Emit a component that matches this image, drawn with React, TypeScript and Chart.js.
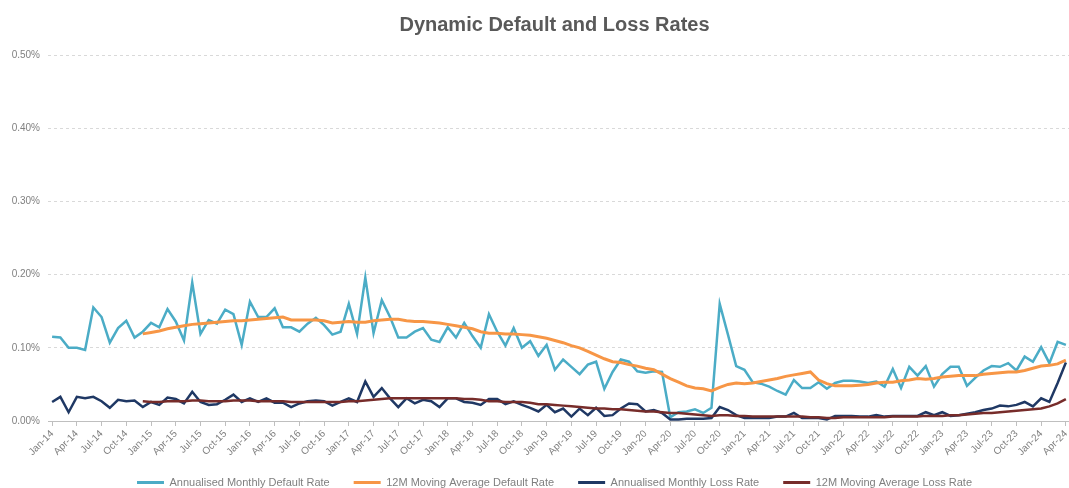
import React, { useEffect, useRef } from 'react';
import { Chart, registerables } from 'chart.js';

Chart.register(...registerables);

// ---- categories ----
const MONTHS = ['Jan', 'Feb', 'Mar', 'Apr', 'May', 'Jun', 'Jul', 'Aug', 'Sep', 'Oct', 'Nov', 'Dec'];
const FIRST_YEAR = 14;
const MONTH_COUNT = 124; // Jan-14 .. Apr-24
const categories: string[] = Array.from(
  { length: MONTH_COUNT },
  (_, i) => `${MONTHS[i % 12]}-${FIRST_YEAR + Math.floor(i / 12)}`
);

// ---- y-axis ticks (%) ----
const Y_MIN = 0;
const Y_MAX = 0.5;
const Y_STEP = 0.1;

// ---- series (values in %) ----
const monthlyDefaultRate = [
  0.115, 0.114, 0.100, 0.100, 0.097, 0.155, 0.142, 0.107, 0.127, 0.137, 0.114, 0.122,
  0.134, 0.128, 0.153, 0.136, 0.110, 0.189, 0.119, 0.138, 0.133, 0.152, 0.146, 0.104,
  0.163, 0.142, 0.142, 0.154, 0.128, 0.128, 0.122, 0.133, 0.141, 0.131, 0.118, 0.122,
  0.160, 0.119, 0.196, 0.120, 0.165, 0.142, 0.114, 0.114, 0.122, 0.127, 0.111, 0.108,
  0.128, 0.114, 0.134, 0.116, 0.100, 0.146, 0.122, 0.103, 0.127, 0.100, 0.109, 0.089,
  0.104, 0.070, 0.084, 0.074, 0.064, 0.077, 0.081, 0.044, 0.067, 0.084, 0.081, 0.068,
  0.066, 0.068, 0.067, 0.005, 0.012, 0.013, 0.016, 0.011, 0.018, 0.160, 0.118, 0.075,
  0.070, 0.053, 0.051, 0.047, 0.041, 0.036, 0.056, 0.045, 0.045, 0.053, 0.044, 0.052,
  0.055, 0.055, 0.054, 0.052, 0.054, 0.047, 0.071, 0.045, 0.074, 0.062, 0.075, 0.047,
  0.064, 0.074, 0.074, 0.048, 0.059, 0.069, 0.075, 0.074, 0.079, 0.069, 0.088, 0.081,
  0.101, 0.079, 0.108, 0.104,
];

const movingAvgDefaultRate = [
  null, null, null, null, null, null, null, null, null, null, null,
  0.119,
  0.121, 0.123, 0.126, 0.128, 0.130, 0.132, 0.133, 0.134, 0.135, 0.136, 0.137, 0.137,
  0.138, 0.139, 0.140, 0.141, 0.142, 0.138, 0.138, 0.138, 0.138, 0.137, 0.134, 0.135,
  0.136, 0.135, 0.135, 0.137, 0.138, 0.139, 0.139, 0.137, 0.136, 0.136, 0.135, 0.134,
  0.132, 0.130, 0.128, 0.126, 0.122, 0.120, 0.120, 0.119, 0.119, 0.118, 0.117, 0.115,
  0.113, 0.110, 0.107, 0.103, 0.100, 0.095, 0.090, 0.085, 0.081, 0.080, 0.077, 0.075,
  0.072, 0.070, 0.064, 0.058, 0.053, 0.048, 0.045, 0.044, 0.041, 0.046, 0.050, 0.052,
  0.051, 0.052, 0.054, 0.056, 0.058, 0.061, 0.063, 0.065, 0.067, 0.056, 0.051, 0.048,
  0.048, 0.048, 0.049, 0.050, 0.052, 0.053, 0.053, 0.055, 0.056, 0.058, 0.057, 0.058,
  0.060, 0.061, 0.062, 0.062, 0.062, 0.064, 0.065, 0.066, 0.067, 0.067, 0.069, 0.072,
  0.075, 0.076, 0.078, 0.083,
];

const monthlyLossRate = [
  0.026, 0.033, 0.012, 0.033, 0.031, 0.033, 0.027, 0.018, 0.029, 0.027, 0.028, 0.019,
  0.026, 0.022, 0.032, 0.030, 0.024, 0.040, 0.026, 0.022, 0.023, 0.029, 0.036, 0.026,
  0.031, 0.026, 0.031, 0.025, 0.025, 0.019, 0.024, 0.027, 0.028, 0.027, 0.021, 0.026,
  0.031, 0.026, 0.054, 0.033, 0.045, 0.031, 0.019, 0.031, 0.024, 0.029, 0.027, 0.019,
  0.031, 0.031, 0.026, 0.025, 0.022, 0.030, 0.030, 0.023, 0.027, 0.022, 0.018, 0.013,
  0.022, 0.012, 0.017, 0.006, 0.017, 0.008, 0.018, 0.007, 0.008, 0.017, 0.024, 0.023,
  0.013, 0.015, 0.011, 0.002, 0.002, 0.003, 0.003, 0.003, 0.004, 0.019, 0.015, 0.008,
  0.004, 0.004, 0.004, 0.004, 0.006, 0.006, 0.011, 0.004, 0.004, 0.004, 0.002, 0.007,
  0.007, 0.007, 0.006, 0.006, 0.008, 0.006, 0.007, 0.007, 0.007, 0.007, 0.012, 0.008,
  0.012, 0.007, 0.008, 0.010, 0.012, 0.015, 0.017, 0.021, 0.020, 0.022, 0.026, 0.020,
  0.031, 0.026, 0.052, 0.080,
];

const movingAvgLossRate = [
  null, null, null, null, null, null, null, null, null, null, null,
  0.027,
  0.026, 0.026, 0.027, 0.027, 0.027, 0.028, 0.028, 0.027, 0.027, 0.027, 0.028, 0.028,
  0.028, 0.027, 0.027, 0.027, 0.027, 0.026, 0.026, 0.026, 0.026, 0.026, 0.026, 0.026,
  0.027, 0.027, 0.028, 0.029, 0.030, 0.031, 0.031, 0.031, 0.031, 0.031, 0.031, 0.031,
  0.031, 0.031, 0.030, 0.030, 0.029, 0.027, 0.027, 0.026, 0.026, 0.026, 0.025, 0.023,
  0.023, 0.022, 0.021, 0.020, 0.019, 0.018, 0.017, 0.017, 0.016, 0.016, 0.015, 0.014,
  0.013, 0.013, 0.012, 0.011, 0.011, 0.010, 0.009, 0.008, 0.007, 0.008, 0.008, 0.007,
  0.007, 0.006, 0.006, 0.006, 0.006, 0.006, 0.006, 0.006, 0.005, 0.005, 0.004, 0.004,
  0.005, 0.005, 0.005, 0.005, 0.005, 0.005, 0.006, 0.006, 0.006, 0.006, 0.007, 0.007,
  0.007, 0.008, 0.008, 0.009, 0.010, 0.011, 0.011, 0.012, 0.013, 0.014, 0.015, 0.016,
  0.017, 0.020, 0.024, 0.030,
];

const seriesNames = [
  'Annualised Monthly Default Rate',
  '12M Moving Average Default Rate',
  'Annualised Monthly Loss Rate',
  '12M Moving Average Loss Rate',
];

const TITLE = 'Dynamic Default and Loss Rates';
const FONT = "'Liberation Sans', Arial, sans-serif";

const CANVAS_W = 1109;
const CANVAS_H = 504;
const LEGEND_SHIFT = 6;

const legendShift = {
  id: 'legendShift',
  afterLayout(chart: any) {
    const lg = chart.legend;
    if (lg) {
      lg.top -= LEGEND_SHIFT;
      lg.bottom -= LEGEND_SHIFT;
    }
  },
};

export default function App() {
  const canvasRef = useRef<HTMLCanvasElement | null>(null);

  useEffect(() => {
    document.body.style.margin = '0';
    document.body.style.overflow = 'hidden';
    document.documentElement.style.overflow = 'hidden';
    const canvas = canvasRef.current;
    if (!canvas) return;

    const mk = (label: string, data: (number | null)[], color: string, width: number, order: number) => ({
      label,
      data,
      borderColor: color,
      backgroundColor: color,
      borderWidth: width,
      pointRadius: 0,
      pointHoverRadius: 0,
      tension: 0,
      fill: false,
      spanGaps: false,
      order,
      yAxisID: 'y',
    });

    const chart = new Chart(canvas, {
      type: 'line',
      data: {
        labels: categories,
        datasets: [
          mk(seriesNames[0], monthlyDefaultRate, '#4BACC6', 2.5, 3),
          mk(seriesNames[1], movingAvgDefaultRate, '#F79646', 3, 1),
          mk(seriesNames[2], monthlyLossRate, '#1F3864', 2.5, 2),
          mk(seriesNames[3], movingAvgLossRate, '#772C2A', 2.5, 0),
        ],
      },
      options: {
        animation: false,
        responsive: false,
        devicePixelRatio: 1,
        layout: { padding: 0 },
        plugins: {
          title: {
            display: true,
            text: TITLE,
            color: '#595959',
            font: { family: FONT, size: 20, weight: 'bold' },
            padding: { top: 13, bottom: 18 },
          },
          legend: {
            position: 'bottom',
            labels: {
              boxWidth: 27,
              boxHeight: 3,
              padding: 24,
              color: '#7f7f7f',
              font: { family: FONT, size: 11 },
              sort: (a: any, b: any) => a.datasetIndex - b.datasetIndex,
              generateLabels: (ch: any) => {
                const items = (Chart as any).defaults.plugins.legend.labels.generateLabels(ch);
                return items.map((it: any) => ({ ...it, lineWidth: 0, fillStyle: it.strokeStyle }));
              },
            },
          },
          tooltip: { enabled: false },
        },
        scales: {
          x: {
            type: 'category',
            offset: true,
            grid: {
              display: true,
              offset: false,
              drawOnChartArea: false,
              drawTicks: true,
              tickLength: 5,
              color: (ctx: any) => (ctx.index % 3 === 0 ? '#bfbfbf' : 'rgba(0,0,0,0)'),
            },
            border: { display: true, color: '#bfbfbf', width: 1 },
            ticks: {
              autoSkip: false,
              minRotation: 45,
              maxRotation: 45,
              padding: 2,
              color: '#808080',
              font: { family: FONT, size: 10 },
              callback: (_v: any, i: number) => (i % 3 === 0 ? categories[i] : ''),
            },
            afterFit: (s: any) => {
              s.height = 38;
            },
          },
          y: {
            position: 'left',
            min: Y_MIN,
            max: Y_MAX,
            ticks: {
              stepSize: Y_STEP,
              padding: 8,
              color: '#808080',
              font: { family: FONT, size: 10 },
              callback: (v: any) => `${Number(v).toFixed(2)}%`,
            },
            grid: { color: '#d9d9d9', drawTicks: false, lineWidth: 1 },
            border: { display: false, dash: [3, 3] },
            afterFit: (s: any) => {
              s.width = 48;
            },
          },
          spacer: {
            type: 'linear',
            position: 'right',
            display: true,
            min: 0,
            max: 1,
            ticks: { display: false },
            grid: { display: false, drawOnChartArea: false, drawTicks: false },
            border: { display: false },
            afterFit: (s: any) => {
              s.width = 39;
            },
          },
        },
      } as any,
      plugins: [legendShift],
    });

    return () => chart.destroy();
  }, []);

  return (
    <div style={{ width: CANVAS_W, height: CANVAS_H, overflow: 'hidden' }}>
      <canvas ref={canvasRef} width={CANVAS_W} height={CANVAS_H} />
    </div>
  );
}
